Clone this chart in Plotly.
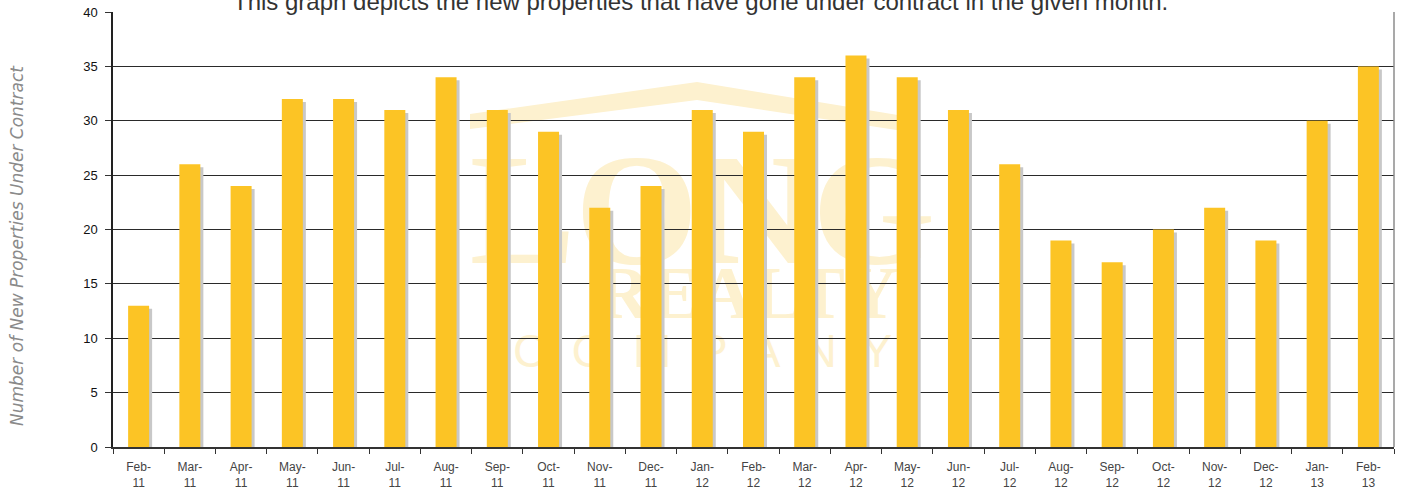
import plotly.graph_objects as go

# ---- data ----
months = ["Feb-<br>11", "Mar-<br>11", "Apr-<br>11", "May-<br>11", "Jun-<br>11", "Jul-<br>11",
          "Aug-<br>11", "Sep-<br>11", "Oct-<br>11", "Nov-<br>11", "Dec-<br>11", "Jan-<br>12",
          "Feb-<br>12", "Mar-<br>12", "Apr-<br>12", "May-<br>12", "Jun-<br>12", "Jul-<br>12",
          "Aug-<br>12", "Sep-<br>12", "Oct-<br>12", "Nov-<br>12", "Dec-<br>12", "Jan-<br>13",
          "Feb-<br>13"]
contracts = [13, 26, 24, 32, 32, 31, 34, 31, 29, 22, 24, 31, 29, 34, 36, 34, 31, 26,
             19, 17, 20, 22, 19, 30, 35]
y_ticks = [0, 5, 10, 15, 20, 25, 30, 35, 40]

title_text = "This graph depicts the new properties that have gone under contract in the given month."
y_title = "Number of New Properties Under Contract"

# ---- layout geometry (pixels) ----
W, H = 1402, 491
L, R, T, B = 113, 8, 12, 44
PW, PH = W - L - R, H - T - B
cat_px = PW / len(months)
unit_px = PH / 40.0

BAR_COLOR = "#FCC425"
SHADOW_COLOR = "#C8C8C8"
WM = "#FDF1CF"

bar_w = 0.41
shift = 3 / cat_px
drop = 3 / unit_px


def px(x):
    return (x - L) / PW


def py(y):
    return (H - B - y) / PH


fig = go.Figure()
fig.add_trace(go.Bar(x=months, y=[v - drop for v in contracts], width=bar_w,
                     offset=-bar_w / 2 + shift, marker=dict(color=SHADOW_COLOR, line=dict(width=0)),
                     hoverinfo="skip", showlegend=False))
fig.add_trace(go.Bar(x=months, y=contracts, width=bar_w, offset=-bar_w / 2,
                     marker=dict(color=BAR_COLOR, line=dict(width=0)), showlegend=False))

# watermark (drawn below traces)
shapes = []
roof = [(470, 114), (697, 82), (910, 117), (910, 132), (697, 100), (470, 129)]
path = "M " + " L ".join(f"{px(a):.4f},{py(b):.4f}" for a, b in roof) + " Z"
shapes.append(dict(type="path", path=path, xref="paper", yref="paper", layer="below",
                   fillcolor=WM, line=dict(width=0)))


def wm_text(text, x0, x1, y0, y1, size, family, weight="normal"):
    shapes.append(dict(type="rect", xref="paper", yref="paper", layer="below",
                       x0=px(x0), x1=px(x1), y0=py(y1), y1=py(y0),
                       line=dict(width=0), fillcolor="rgba(0,0,0,0)",
                       label=dict(text=text, textposition="middle center",
                                  font=dict(size=size, family=family, color=WM, weight=weight))))


wm_text("LONG", 500, 905, 120, 265, 158, "Liberation Serif", "bold")
wm_text("REALTY", 590, 905, 255, 315, 74, "Liberation Serif", "bold")
wm_text("C  O  M  P  A  N  Y", 500, 905, 322, 372, 46, "Liberation Sans")

# right border line
shapes.append(dict(type="line", xref="paper", yref="paper", x0=1, x1=1, y0=0, y1=1,
                   line=dict(color="#8C8C8C", width=1.5), layer="above"))

fig.update_layout(
    width=W, height=H,
    margin=dict(l=L, r=R, t=T, b=B),
    plot_bgcolor="white", paper_bgcolor="white",
    barmode="overlay",
    font=dict(family="Liberation Sans, Arial, sans-serif", color="#222"),
    shapes=shapes,
    xaxis=dict(type="category", showline=True, linecolor="#333", linewidth=1.5,
               ticks="outside", tickson="boundaries", ticklen=5, tickcolor="#333",
               ticklabelstandoff=8, automargin=False,
               tickfont=dict(size=12, color="#444"), showgrid=False,
               range=[-0.5, len(months) - 0.5]),
    yaxis=dict(range=[0, 40], tickvals=y_ticks, showline=True, linecolor="#222", linewidth=1.5,
               ticks="outside", ticklen=6, tickcolor="#333", ticklabelstandoff=5,
               automargin=False, tickfont=dict(size=13, color="#111"),
               showgrid=True, gridcolor="#2a2a2a", gridwidth=1, zeroline=False),
    annotations=[
        dict(text=title_text, xref="paper", yref="paper", x=px(700), y=py(17),
             xanchor="center", yanchor="bottom", showarrow=False,
             font=dict(size=24, color="#333")),
        dict(text=y_title, xref="paper", yref="paper", x=px(17), y=py(246),
             xanchor="center", yanchor="middle", textangle=-90, showarrow=False,
             font=dict(size=17, family="DejaVu Sans", color="#8A8A8A", style="italic")),
    ],
)

fig.write_html("out.html", config={"displayModeBar": False},
               post_script="document.body.style.margin='0';")
